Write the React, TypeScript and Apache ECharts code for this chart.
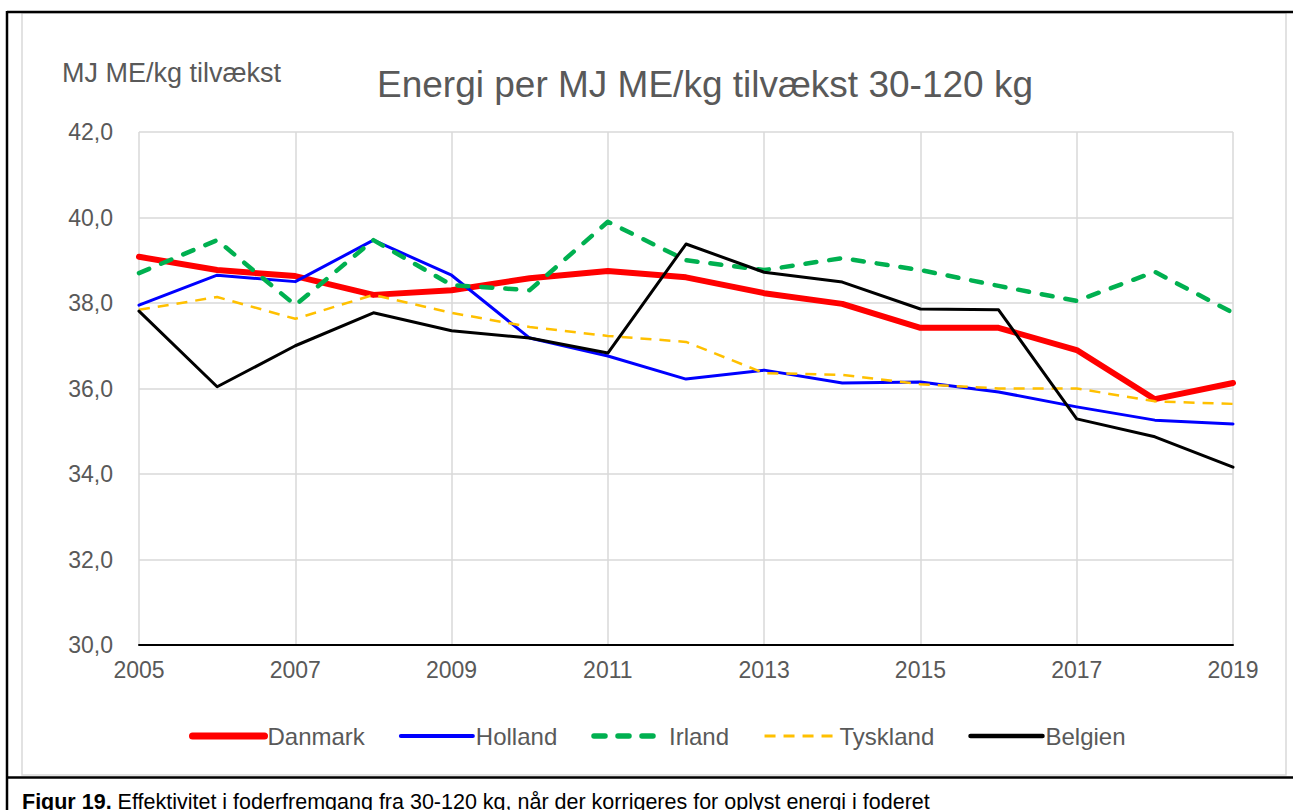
import React, { useEffect, useRef } from "react";
import * as echarts from "echarts";

const years = ["2005","2006","2007","2008","2009","2010","2011","2012","2013","2014","2015","2016","2017","2018","2019"];
const danmark = [39.08, 38.77, 38.63, 38.19, 38.3, 38.58, 38.75, 38.6, 38.23, 37.98, 37.42, 37.42, 36.9, 35.75, 36.13];
const holland = [37.95, 38.65, 38.5, 39.47, 38.65, 37.18, 36.76, 36.22, 36.43, 36.13, 36.15, 35.92, 35.57, 35.26, 35.17];
const irland = [38.7, 39.47, 37.95, 39.47, 38.42, 38.3, 39.9, 39.0, 38.77, 39.05, 38.77, 38.4, 38.05, 38.73, 37.77];
const tyskland = [37.84, 38.14, 37.63, 38.19, 37.77, 37.44, 37.23, 37.09, 36.36, 36.32, 36.1, 36.0, 36.0, 35.7, 35.64];
const belgien = [37.81, 36.04, 37.0, 37.77, 37.35, 37.18, 36.83, 39.38, 38.72, 38.49, 37.86, 37.84, 35.29, 34.87, 34.16];

const FONT = "Liberation Sans, Arial, sans-serif";

export default function App() {
  const ref = useRef<HTMLDivElement>(null);
  useEffect(() => {
    if (!ref.current) return;
    const chart = echarts.init(ref.current, null, { renderer: "svg" });
    const mk = (name: string, data: number[], color: string, width: number, type: any, cap: any) => ({
      name,
      type: "line",
      data,
      symbol: "none",
      showSymbol: false,
      lineStyle: { color, width, type, cap, join: "round" },
      itemStyle: { color },
    });
    chart.setOption({
      animation: false,
      backgroundColor: "#ffffff",
      textStyle: { fontFamily: FONT },
      title: {
        text: "Energi per MJ ME/kg tilvækst 30-120 kg",
        left: 700,
        top: 61,
        textAlign: "center",
        textStyle: { fontFamily: FONT, fontSize: 37, fontWeight: "normal", color: "#595959" },
      },
      legend: {
        top: 719,
        left: 184,
        itemWidth: 72,
        itemHeight: 14,
        itemGap: 34,
        itemStyle: { opacity: 0 },
        lineStyle: { width: "inherit" },
        textStyle: { fontFamily: FONT, fontSize: 24, color: "#595959", padding: [0, 0, 0, -2] },
        data: [
          { name: "Danmark", lineStyle: { width: 7 } },
          { name: "Holland", lineStyle: { width: 4 } },
          { name: "Irland", lineStyle: { width: 5.5 } },
          { name: "Tyskland", lineStyle: { width: 3 } },
          { name: "Belgien", lineStyle: { width: 4.5 } },
        ],
      },
      grid: { left: 139, right: 60, top: 132, bottom: 165 },
      xAxis: {
        type: "category",
        data: years,
        boundaryGap: false,
        axisLine: { lineStyle: { color: "#000000", width: 2 } },
        axisTick: { show: false },
        axisLabel: { interval: 1, margin: 13, fontFamily: FONT, fontSize: 23, color: "#595959" },
        splitLine: { show: true, interval: 1, lineStyle: { color: "#d9d9d9", width: 1.5 } },
      },
      yAxis: {
        type: "value",
        min: 30,
        max: 42,
        interval: 2,
        axisLine: { show: false },
        axisTick: { show: false },
        axisLabel: {
          margin: 26,
          fontFamily: FONT,
          fontSize: 23,
          color: "#595959",
          formatter: (v: number) => v.toFixed(1).replace(".", ","),
        },
        splitLine: { lineStyle: { color: "#d9d9d9", width: 1.5 } },
      },
      series: [
        mk("Danmark", danmark, "#ff0000", 6, "solid", "round"),
        mk("Holland", holland, "#0000ff", 3, "solid", "round"),
        mk("Irland", irland, "#00b050", 4.5, [11, 13], "round"),
        mk("Tyskland", tyskland, "#ffc000", 2.5, [11, 8], "butt"),
        mk("Belgien", belgien, "#000000", 3, "solid", "round"),
      ],
      graphic: [
        { type: "rect", silent: true, shape: { x: 22, y: 13, width: 1264, height: 762 }, style: { fill: "none", stroke: "#d9d9d9", lineWidth: 1.5 } },
        { type: "line", silent: true, shape: { x1: 7, y1: 12, x2: 1293, y2: 12 }, style: { stroke: "#000000", lineWidth: 2.5 } },
        { type: "line", silent: true, shape: { x1: 7, y1: 11, x2: 7, y2: 810 }, style: { stroke: "#000000", lineWidth: 2.5 } },
        { type: "line", silent: true, shape: { x1: 7, y1: 777.5, x2: 1293, y2: 777.5 }, style: { stroke: "#000000", lineWidth: 2.5 } },
        {
          type: "text",
          left: 62,
          top: 59,
          style: { text: "MJ ME/kg tilvækst", fontFamily: FONT, fontSize: 27, fill: "#595959" },
        },
        {
          type: "text",
          left: 22,
          top: 791,
          style: {
            text: "{b|Figur 19.} Effektivitet i foderfremgang fra 30-120 kg, når der korrigeres for oplyst energi i foderet",
            fontFamily: FONT,
            fontSize: 21.5,
            fill: "#000000",
            rich: { b: { fontFamily: FONT, fontSize: 21.5, fontWeight: "bold", fill: "#000000" } },
          },
        },
      ],
    });
    return () => chart.dispose();
  }, []);
  return <div ref={ref} style={{ position: "absolute", left: 0, top: 0, width: 1293, height: 810 }} />;
}
